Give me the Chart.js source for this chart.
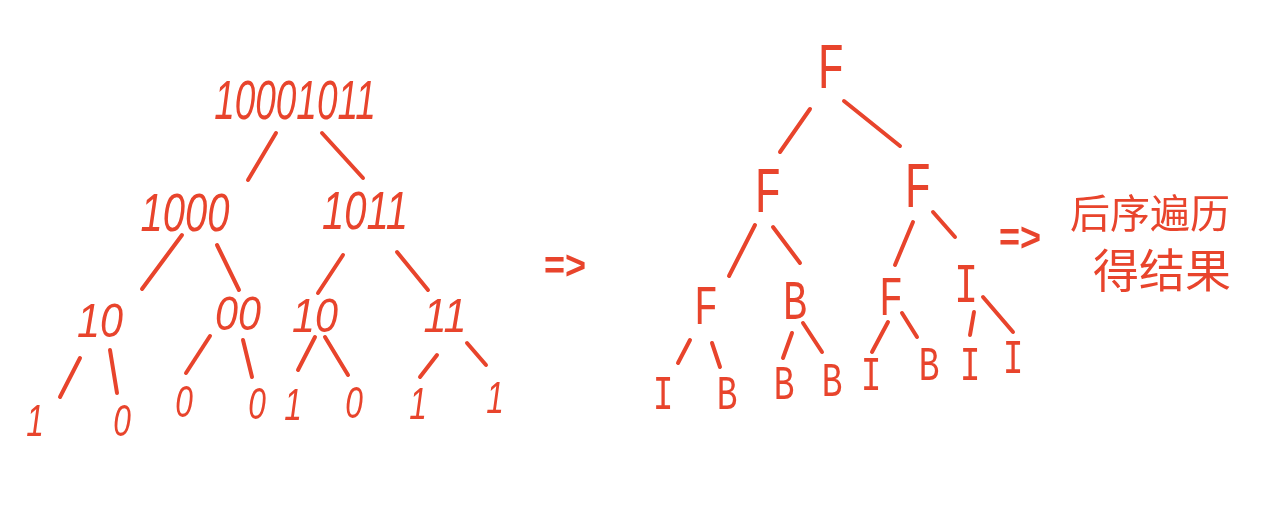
<!DOCTYPE html>
<html>
<head>
<meta charset="utf-8">
<script src="https://cdn.jsdelivr.net/npm/chart.js@4"></script>
<style>
  html, body { margin: 0; padding: 0; background: #ffffff; }
  #wrap { width: 1280px; height: 505px; }
</style>
</head>
<body>
<div id="wrap"><canvas id="c" width="1280" height="505"></canvas></div>
<script>
// ---- Data (diagram coordinates; x: 0..1280, y: 0..505 downward) ----
// Left tree: binary strings
const leftLabels = ['10001011','1000','1011','10','00','10','11','1','0','0','0','1','0','1','1'];
const leftX      = [295, 185, 365, 100, 238, 315, 445, 35, 122, 184, 257, 293, 354, 418, 495];
const leftY      = [100, 212, 210, 320, 313, 315, 315, 420, 420, 401, 403, 404, 402, 403, 397];
const leftLevel  = [0, 1, 1, 2, 2, 2, 2, 3, 3, 3, 3, 3, 3, 3, 3];

// Right tree: FBI tree
const rightLabels = ['F','F','F','F','B','F','I','I','B','B','B','I','B','I','I'];
const rightX      = [831, 768, 918, 706, 795, 891, 966, 663, 727, 784, 832, 871, 929, 970, 1013];
const rightY      = [66, 190, 185, 305, 300, 296, 283, 393, 393, 383, 380, 374, 364, 364, 357];
const rightLevel  = [0, 1, 1, 2, 2, 2, 2, 3, 3, 3, 3, 3, 3, 3, 3];

// Edge strokes (start / end points)
const edgeX0 = [276, 322, 182, 217, 343, 397, 80, 110, 210, 243, 315, 325, 437, 467,
                810, 844, 755, 773, 913, 933, 690, 712, 792, 803, 888, 902, 974, 983];
const edgeY0 = [133, 133, 235, 245, 255, 252, 358, 350, 336, 340, 337, 337, 355, 343,
                109, 101, 225, 227, 222, 212, 340, 343, 333, 323, 322, 313, 312, 297];
const edgeX1 = [248, 363, 142, 239, 318, 428, 60, 117, 186, 252, 298, 348, 420, 486,
                780, 900, 729, 800, 895, 955, 678, 720, 783, 822, 872, 917, 970, 1013];
const edgeY1 = [180, 178, 289, 290, 293, 290, 397, 393, 373, 377, 370, 375, 377, 365,
                152, 146, 276, 263, 265, 237, 363, 367, 358, 352, 352, 337, 335, 332];

// Arrows and note
const arrowLabels = ['=>', '=>'];
const arrowX = [565, 1020];
const arrowY = [265, 237];
const noteLines = ['后序遍历', '得结果'];
const noteX = [1150, 1162];
const noteY = [213, 270];

// ---- Styles ----
const INK = '#e8442c';
const leftStyle  = { family: '"Liberation Sans"', italic: true, size: [56, 54, 48, 44], squeeze: [0.66, 0.74, 0.86, 0.72] };
const rightStyle = { family: '"Liberation Mono"', italic: false, size: [64, 64, 56, 48], squeeze: [0.72, 0.72, 0.72, 0.72] };

const datasets = edgeX0.map((x0, i) => ({
  data: [{ x: x0, y: edgeY0[i] }, { x: edgeX1[i], y: edgeY1[i] }],
  showLine: true,
  borderColor: INK,
  borderWidth: 4,
  borderCapStyle: 'round',
  pointRadius: 0,
  pointHoverRadius: 0,
  fill: false
}));

function drawText(ctx, chart, text, x, y, font, squeeze) {
  const px = chart.scales.x.getPixelForValue(x);
  const py = chart.scales.y.getPixelForValue(y);
  ctx.save();
  ctx.font = font;
  ctx.fillStyle = INK;
  ctx.textAlign = 'center';
  ctx.textBaseline = 'alphabetic';
  const m = ctx.measureText(text);
  const off = (m.actualBoundingBoxAscent - m.actualBoundingBoxDescent) / 2;
  ctx.translate(px, py);
  ctx.scale(squeeze, 1);
  ctx.fillText(text, 0, off);
  ctx.restore();
}

const labelPlugin = {
  id: 'treeLabels',
  afterDatasetsDraw(chart) {
    const ctx = chart.ctx;
    leftLabels.forEach((t, i) => {
      const lv = leftLevel[i];
      drawText(ctx, chart, t, leftX[i], leftY[i],
        (leftStyle.italic ? 'italic ' : '') + leftStyle.size[lv] + 'px ' + leftStyle.family,
        leftStyle.squeeze[lv]);
    });
    rightLabels.forEach((t, i) => {
      const lv = rightLevel[i];
      drawText(ctx, chart, t, rightX[i], rightY[i],
        (rightStyle.italic ? 'italic ' : '') + rightStyle.size[lv] + 'px ' + rightStyle.family,
        rightStyle.squeeze[lv]);
    });
    arrowLabels.forEach((t, i) => {
      drawText(ctx, chart, t, arrowX[i], arrowY[i], 'bold 40px "Liberation Sans"', 0.9);
    });
    noteLines.forEach((t, i) => {
      drawText(ctx, chart, t, noteX[i], noteY[i], (i === 0 ? 40 : 46) + 'px "Noto Sans CJK SC"', 1);
    });
  }
};

new Chart(document.getElementById('c'), {
  type: 'scatter',
  data: { datasets },
  options: {
    responsive: false,
    animation: false,
    layout: { padding: 0 },
    plugins: { legend: { display: false }, tooltip: { enabled: false } },
    scales: {
      x: { type: 'linear', min: 0, max: 1280, display: false },
      y: { type: 'linear', min: 0, max: 505, reverse: true, display: false }
    },
    events: []
  },
  plugins: [labelPlugin]
});
</script>
</body>
</html>
